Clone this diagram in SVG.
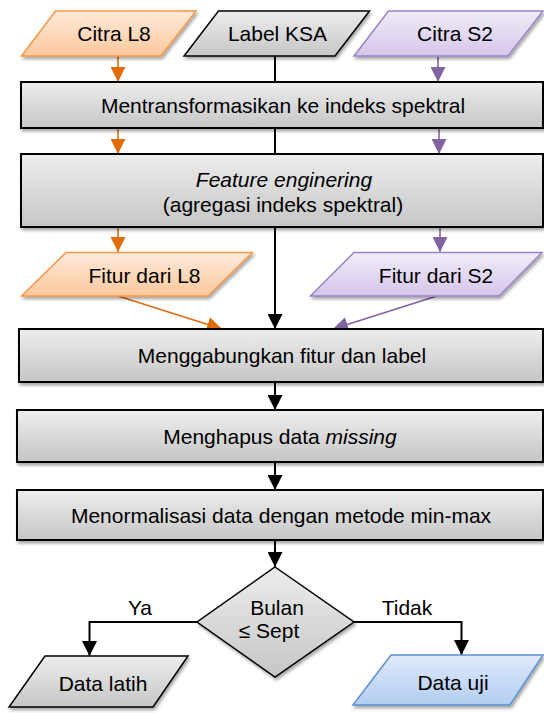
<svg xmlns="http://www.w3.org/2000/svg" width="544" height="713" viewBox="0 0 544 713">
<style>
text{font-family:"Liberation Sans",Arial,sans-serif;font-size:21px;fill:#000;text-anchor:middle}
.box{fill:url(#gGray);stroke:#000;stroke-width:2;filter:url(#sh)}
.pg{fill:url(#gGray);stroke:#000;stroke-width:1.5;filter:url(#sh)}
.po{fill:url(#gOrange);stroke:#f79646;stroke-width:1.5;filter:url(#sh)}
.pp{fill:url(#gPurple);stroke:#9b84c6;stroke-width:1.5;filter:url(#sh)}
.pb{fill:url(#gBlue);stroke:#5e8fd1;stroke-width:1.5;filter:url(#sh)}
.ck{fill:none;stroke:#000;stroke-width:2}
.co{fill:none;stroke:#e36c0a;stroke-width:1.6}
.cp{fill:none;stroke:#8064a2;stroke-width:1.6}
</style>
<defs>
<linearGradient id="gGray" x1="0" y1="0" x2="0" y2="1"><stop offset="0" stop-color="#ededed"/><stop offset="1" stop-color="#c6c6c6"/></linearGradient>
<linearGradient id="gOrange" x1="0" y1="0" x2="0" y2="1"><stop offset="0" stop-color="#feeadb"/><stop offset="1" stop-color="#fcc89c"/></linearGradient>
<linearGradient id="gPurple" x1="0" y1="0" x2="0" y2="1"><stop offset="0" stop-color="#f1ecf8"/><stop offset="1" stop-color="#d5c6ea"/></linearGradient>
<linearGradient id="gBlue" x1="0" y1="0" x2="0" y2="1"><stop offset="0" stop-color="#dfeafa"/><stop offset="1" stop-color="#b2cdf1"/></linearGradient>
<filter id="sh" x="-10%" y="-10%" width="125%" height="140%"><feDropShadow dx="1.5" dy="2.5" stdDeviation="1.8" flood-color="#000" flood-opacity="0.35"/></filter>
<marker id="ak" markerUnits="userSpaceOnUse" markerWidth="15" markerHeight="15" refX="15" refY="7.5" orient="auto"><path d="M0,0 L15,7.5 L0,15 z" fill="#000"/></marker>
<marker id="ao" markerUnits="userSpaceOnUse" markerWidth="15" markerHeight="15" refX="15" refY="7.5" orient="auto"><path d="M0,0 L15,7.5 L0,15 z" fill="#e36c0a"/></marker>
<marker id="ap" markerUnits="userSpaceOnUse" markerWidth="15" markerHeight="15" refX="15" refY="7.5" orient="auto"><path d="M0,0 L15,7.5 L0,15 z" fill="#8064a2"/></marker>
</defs>
<g id="connectors">
<path class="ck" d="M275,56 V82"/>
<path class="ck" d="M275,128 V154"/>
<path class="ck" d="M275,227 V329" marker-end="url(#ak)"/>
<path class="ck" d="M275,382 V410" marker-end="url(#ak)"/>
<path class="ck" d="M275,462 V490" marker-end="url(#ak)"/>
<path class="ck" d="M275,540 V567" marker-end="url(#ak)"/>
<path class="ck" d="M197,622 H89.5 V656" marker-end="url(#ak)"/>
<path class="ck" d="M354,622 H461.5 V655" marker-end="url(#ak)"/>
<path class="co" d="M118,56 V82" marker-end="url(#ao)"/>
<path class="co" d="M118,128 V154" marker-end="url(#ao)"/>
<path class="co" d="M118,227 V252" marker-end="url(#ao)"/>
<path class="co" d="M118,296 L222,329" marker-end="url(#ao)"/>
<path class="cp" d="M438,56 V82" marker-end="url(#ap)"/>
<path class="cp" d="M439,128 V154" marker-end="url(#ap)"/>
<path class="cp" d="M440,227 V252" marker-end="url(#ap)"/>
<path class="cp" d="M437,296 L333,329" marker-end="url(#ap)"/>
<text x="140" y="615">Ya</text>
<text x="407" y="615">Tidak</text>
</g>
<g id="citra-l8"><polygon class="po" points="55.5,11 196,11 161,56 21.5,56"/><text x="114" y="41">Citra L8</text></g>
<g id="label-ksa"><polygon class="pg" points="218.5,11 369.5,11 335,56 184,56"/><text x="277.5" y="41">Label KSA</text></g>
<g id="citra-s2"><polygon class="pp" points="388.5,11 543,11 508,56 354,56"/><text x="455" y="41">Citra S2</text></g>
<g id="transform"><rect class="box" x="21" y="82" width="522" height="46"/><text x="283" y="112.5">Mentransformasikan ke indeks spektral</text></g>
<g id="feature-eng"><rect class="box" x="21" y="154" width="522" height="73"/><text x="284" y="187" font-style="italic">Feature enginering</text><text x="283" y="212">(agregasi indeks spektral)</text></g>
<g id="fitur-l8"><polygon class="po" points="66,252.5 252.5,252.5 208,296 21.5,296"/><text x="144.5" y="283">Fitur dari L8</text></g>
<g id="fitur-s2"><polygon class="pp" points="354,252.5 542,252.5 499,296 310.5,296"/><text x="436" y="283">Fitur dari S2</text></g>
<g id="gabung"><rect class="box" x="19" y="329" width="524" height="53"/><text x="282" y="363">Menggabungkan fitur dan label</text></g>
<g id="hapus"><rect class="box" x="17" y="410" width="526" height="52"/><text x="280" y="443.5">Menghapus data <tspan font-style="italic">missing</tspan></text></g>
<g id="normalisasi"><rect class="box" x="17" y="490" width="526" height="50"/><text x="281" y="522.5">Menormalisasi data dengan metode min-max</text></g>
<g id="decision"><polygon class="pg" points="275,567 354,622 275,677 197,622"/><text x="277" y="615">Bulan</text><text x="269" y="638">≤ Sept</text></g>
<g id="data-latih"><polygon class="pg" points="45,656 188,656 153,707 9,707"/><text x="103" y="691">Data latih</text></g>
<g id="data-uji"><polygon class="pb" points="391,655 543,655 510,705 353,705"/><text x="453" y="690">Data uji</text></g>
</svg>
